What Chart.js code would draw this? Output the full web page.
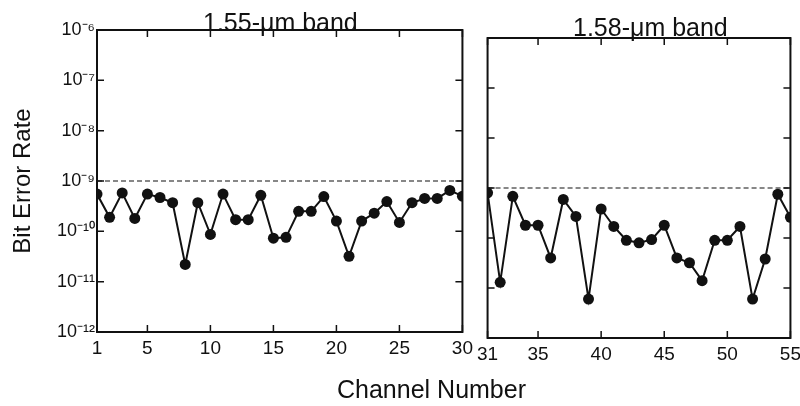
<!DOCTYPE html>
<html>
<head>
  <title>Bit Error Rate per Channel</title>
  <script src="https://cdn.jsdelivr.net/npm/chart.js"></script>
  <style>
    body { margin: 0; background: #fff; font-family: "Liberation Sans", Arial, sans-serif; }
    #wrap { position: relative; width: 800px; height: 406px; overflow: hidden; }
    canvas { position: absolute; top: 0; }
    .lbl { position: absolute; color: #111; white-space: nowrap; font-size: 25px; }
  </style>
</head>
<body>
<div id="wrap">
  <canvas id="chartA" width="478" height="406" style="left:0"></canvas>
  <canvas id="chartB" width="334" height="406" style="left:472px"></canvas>
  <div class="lbl" style="left:203px; top:8px;">1.55-&mu;m band</div>
  <div class="lbl" style="left:573px; top:13px;">1.58-&mu;m band</div>
  <div class="lbl" style="left:337px; top:375px;">Channel Number</div>
</div>

<script>
  // --- data ---
  const channelsA = [1, 2, 3, 4, 5, 6, 7, 8, 9, 10, 11, 12, 13, 14, 15,
                     16, 17, 18, 19, 20, 21, 22, 23, 24, 25, 26, 27, 28, 29, 30];
  const berA = [5.5e-10, 1.9e-10, 5.8e-10, 1.8e-10, 5.5e-10, 4.7e-10, 3.7e-10, 2.2e-11, 3.7e-10, 8.7e-11,
                5.5e-10, 1.7e-10, 1.7e-10, 5.2e-10, 7.3e-11, 7.6e-11, 2.5e-10, 2.5e-10, 4.9e-10, 1.6e-10,
                3.2e-11, 1.6e-10, 2.3e-10, 3.9e-10, 1.5e-10, 3.7e-10, 4.5e-10, 4.5e-10, 6.5e-10, 5.0e-10];

  const channelsB = [31, 32, 33, 34, 35, 36, 37, 38, 39, 40, 41, 42, 43,
                     44, 45, 46, 47, 48, 49, 50, 51, 52, 53, 54, 55];
  const berB = [8.0e-10, 1.3e-11, 6.8e-10, 1.8e-10, 1.8e-10, 4.0e-11, 5.9e-10, 2.7e-10, 6.0e-12, 3.8e-10,
                1.7e-10, 9.0e-11, 8.0e-11, 9.3e-11, 1.8e-10, 4.0e-11, 3.2e-11, 1.4e-11, 9.0e-11, 9.0e-11,
                1.7e-10, 6.0e-12, 3.8e-11, 7.5e-10, 2.6e-10];

  const threshold = 1e-9;
  const xTicksA = [1, 5, 10, 15, 20, 25, 30];
  const xTicksB = [31, 35, 40, 45, 50, 55];
  const yTicks = [1e-12, 1e-11, 1e-10, 1e-9, 1e-8, 1e-7, 1e-6];

  const INK = '#111';
  const SUP = { '-': '\u207B', '0': '\u2070', '1': '\u00B9', '2': '\u00B2', '3': '\u00B3', '4': '\u2074',
                '5': '\u2075', '6': '\u2076', '7': '\u2077', '8': '\u2078', '9': '\u2079' };
  const powLabel = v => '10' + String(Math.round(Math.log10(v))).split('').map(c => SUP[c]).join('');

  // frame + inward tick marks on all four sides
  const framePlugin = {
    id: 'frame',
    afterDraw(chart) {
      const { ctx, chartArea: a, scales: { x, y } } = chart;
      ctx.save();
      ctx.strokeStyle = INK;
      ctx.lineWidth = 2;
      ctx.strokeRect(a.left, a.top, a.right - a.left, a.bottom - a.top);
      ctx.lineWidth = 1.5;
      ctx.beginPath();
      x.ticks.forEach(t => {
        const px = x.getPixelForValue(t.value);
        ctx.moveTo(px, a.bottom); ctx.lineTo(px, a.bottom - 7);
        ctx.moveTo(px, a.top); ctx.lineTo(px, a.top + 7);
      });
      y.ticks.forEach(t => {
        const py = y.getPixelForValue(t.value);
        ctx.moveTo(a.left, py); ctx.lineTo(a.left + 7, py);
        ctx.moveTo(a.right, py); ctx.lineTo(a.right - 7, py);
      });
      ctx.stroke();
      ctx.restore();
    }
  };

  function makeChart(id, channels, ber, xTicks, showY, padding, xHeight) {
    const xMin = channels[0], xMax = channels[channels.length - 1];
    return new Chart(document.getElementById(id), {
      type: 'line',
      data: {
        datasets: [
          {
            data: channels.map((c, i) => ({ x: c, y: ber[i] })),
            borderColor: INK,
            borderWidth: 2,
            pointRadius: 5.5,
            pointBackgroundColor: INK,
            pointBorderWidth: 0,
            tension: 0
          },
          {
            data: [{ x: xMin, y: threshold }, { x: xMax, y: threshold }],
            borderColor: INK,
            borderWidth: 1.2,
            borderDash: [5, 3],
            pointRadius: 0
          }
        ]
      },
      options: {
        responsive: false,
        animation: false,
        layout: { padding },
        plugins: { legend: { display: false }, tooltip: { enabled: false } },
        scales: {
          x: {
            type: 'linear',
            min: xMin,
            max: xMax,
            afterBuildTicks: s => { s.ticks = xTicks.map(v => ({ value: v })); },
            afterFit: s => { s.height = xHeight; },
            grid: { display: false, drawTicks: false },
            border: { display: false },
            ticks: { color: INK, padding: 5, maxRotation: 0, font: { size: 19, family: 'Liberation Sans' } }
          },
          y: {
            type: 'logarithmic',
            display: showY,
            min: 1e-12,
            max: 1e-6,
            afterBuildTicks: s => { s.ticks = yTicks.map(v => ({ value: v })); },
            afterFit: s => { s.width = showY ? 97 : 0; },
            grid: { display: false, drawTicks: false },
            border: { display: false },
            ticks: { color: INK, padding: 2, callback: powLabel, font: { size: 18, family: 'Liberation Sans' } },
            title: {
              display: true,
              text: 'Bit Error Rate',
              color: INK,
              padding: { top: 9, bottom: 0 },
              font: { size: 24, family: 'Liberation Sans' }
            }
          }
        }
      },
      plugins: [framePlugin]
    });
  }

  makeChart('chartA', channelsA, berA, xTicksA, true, { top: 30, right: 0, left: 0, bottom: 0 }, 74);
  makeChart('chartB', channelsB, berB, xTicksB, false, { top: 38, right: 0, left: 15, bottom: 0 }, 68);
</script>
</body>
</html>
